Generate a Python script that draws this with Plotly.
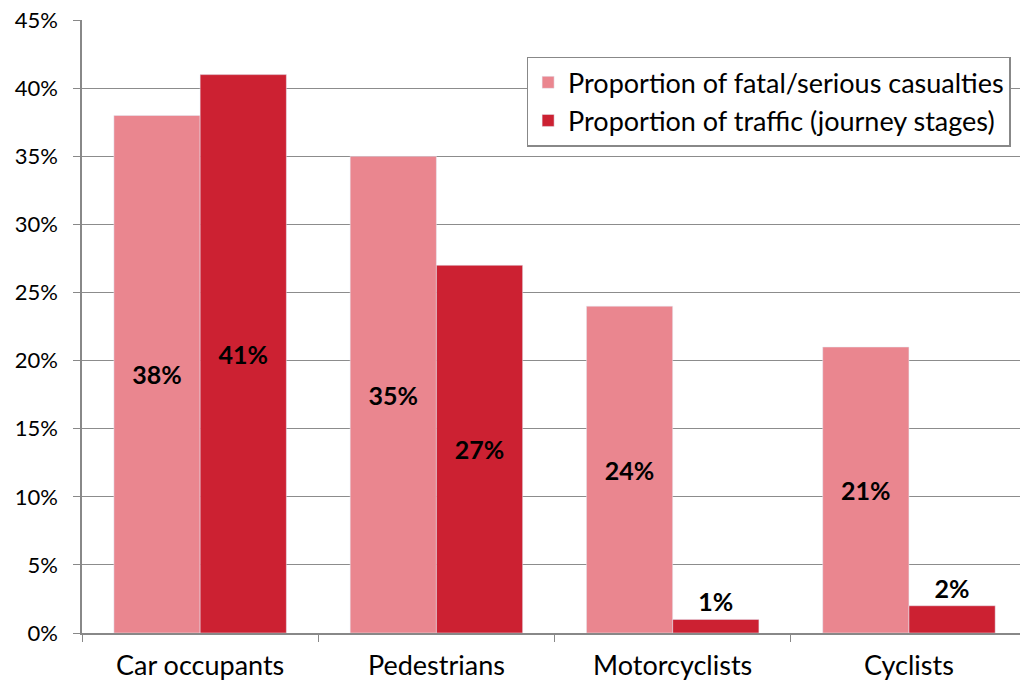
import plotly.graph_objects as go

# données
categories = ["Car occupants", "Pedestrians", "Motorcyclists", "Cyclists"]
casualties = [0.38, 0.35, 0.24, 0.21]
traffic = [0.41, 0.27, 0.01, 0.02]
y_ticks = [0, 0.05, 0.10, 0.15, 0.20, 0.25, 0.30, 0.35, 0.40, 0.45]

FONT = "Lato"

fig = go.Figure()
fig.add_trace(go.Bar(
    x=categories, y=casualties,
    name="Proportion of fatal/serious casualties",
    marker_color="#EA868F",
    text=[f"{v:.0%}" for v in casualties],
    textposition="inside", insidetextanchor="middle",
    textfont=dict(family=FONT, size=25, color="black", weight="bold"),
))
fig.add_trace(go.Bar(
    x=categories, y=traffic,
    name="Proportion of traffic (journey stages)",
    marker_color="#CC2132",
    text=[f"{v:.0%}" for v in traffic],
    textposition=["inside", "inside", "outside", "outside"],
    insidetextanchor="middle",
    textfont=dict(family=FONT, size=25, color="black", weight="bold"),
    cliponaxis=False,
))

fig.update_layout(
    width=1020, height=686,
    margin=dict(l=82, r=0, t=20, b=53),
    paper_bgcolor="white", plot_bgcolor="white",
    barmode="group", bargap=0.27, bargroupgap=0,
    font=dict(family=FONT, size=22, color="black"),
    legend=dict(
        x=0.474, y=0.94, xanchor="left", yanchor="top",
        bordercolor="#888888", borderwidth=1.5,
        font=dict(family=FONT, size=27),
        itemwidth=30, tracegroupgap=0,
    ),
)
# la dernière catégorie déborde à droite, comme sur l'original
fig.update_xaxes(
    range=[-0.5, 3.47], automargin=False,
    showline=True, linecolor="#888888", linewidth=1.5,
    ticks="outside", tickson="boundaries", ticklen=7, tickcolor="#888888",
    showgrid=False, ticklabelstandoff=8,
    tickfont=dict(family=FONT, size=27),
)
fig.update_yaxes(
    range=[0, 0.4501], tickvals=y_ticks, tickformat=".0%", automargin=False,
    showline=True, linecolor="#888888", linewidth=1.5,
    ticks="outside", ticklen=7, tickcolor="#888888",
    showgrid=True, gridcolor="#8c8c8c", gridwidth=1.2,
    zeroline=False, ticklabelstandoff=11, ticklabeloverflow="allow",
    tickfont=dict(family=FONT, size=22),
)

# pas de marge de page autour du graphique, pas de barre d'outils
fig.write_html("out.html", config={"displayModeBar": False},
               post_script="document.body.style.margin='0';")
